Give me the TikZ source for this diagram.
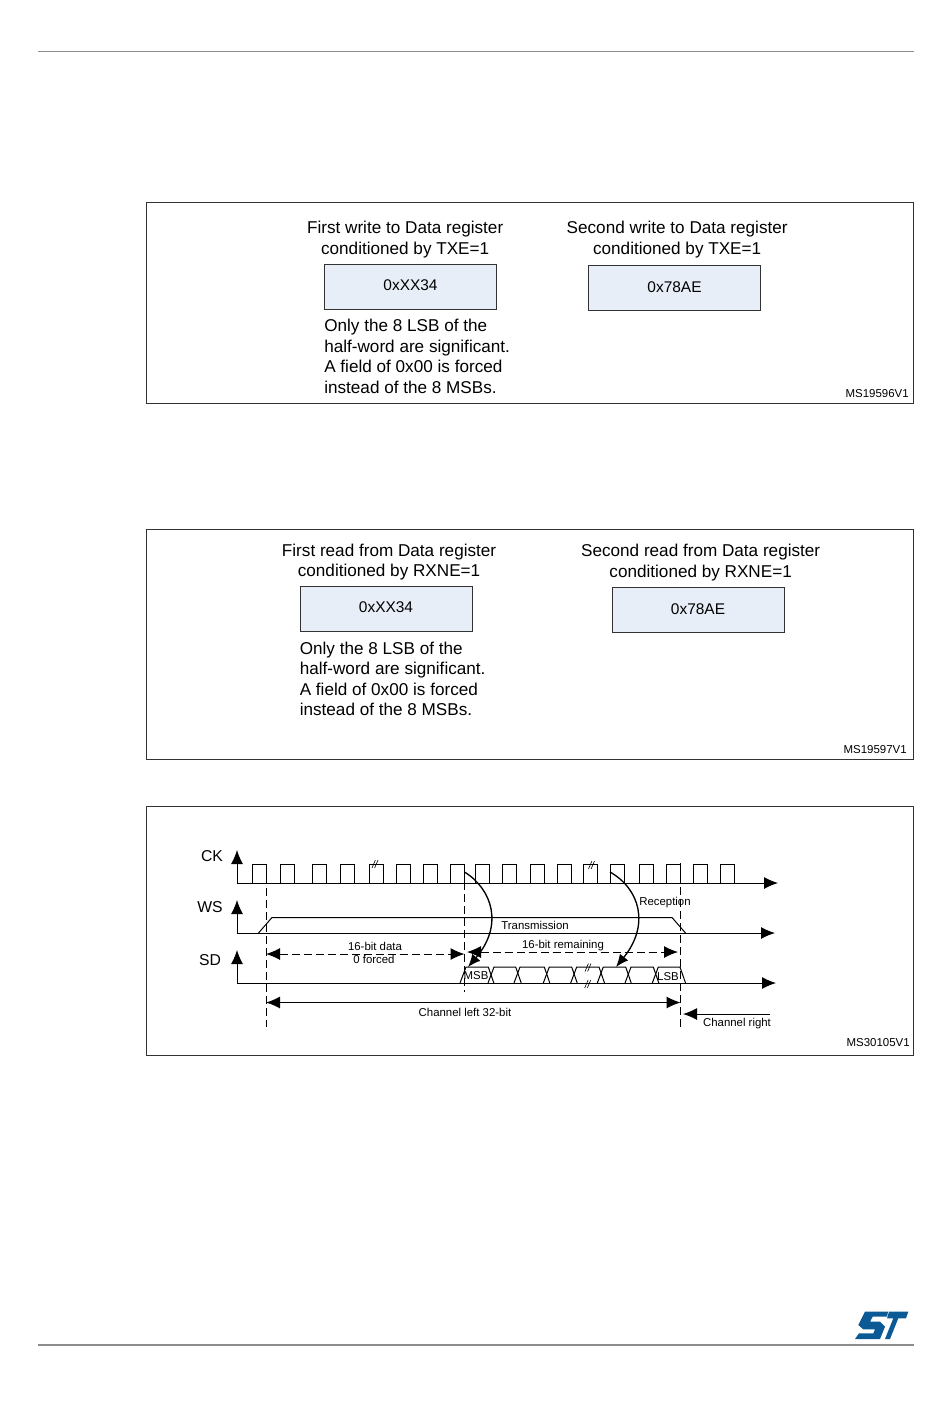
\documentclass[tikz,border=0pt]{standalone}
\usepackage{fontspec}
\setmainfont{Liberation Sans}
\usepackage{xcolor}
\usetikzlibrary{arrows.meta, positioning, calc}
\definecolor{regblue}{HTML}{E8EEF7}
\definecolor{stblue}{HTML}{0B5A96}
\definecolor{rulegray}{HTML}{8C8C8C}
\tikzset{
    frame/.style={draw=black!80, line width=0.6pt},
    regbox/.style={draw=black!80, fill=regblue, line width=0.5pt, minimum width=129.2pt, minimum height=33.5pt, inner sep=0pt, font=\fontsize{11.6pt}{13pt}\selectfont},
    title/.style={align=center, inner sep=0pt, font=\fontsize{12.85pt}{15.5pt}\selectfont},
    note/.style={align=left, inner sep=0pt, font=\fontsize{12.85pt}{15.4pt}\selectfont},
    figid/.style={inner sep=0pt, anchor=east, font=\fontsize{8.6pt}{9pt}\selectfont},
    siglabel/.style={inner sep=0pt, font=\fontsize{11.8pt}{13pt}\selectfont},
    small/.style={inner sep=0pt, font=\fontsize{8.55pt}{9pt}\selectfont},
    sig/.style={line width=0.75pt},
    axis/.style={sig, -{Latex[length=10.5pt,width=9pt]}},
    span/.style={sig, {Latex[length=10.5pt,width=9pt]}-{Latex[length=10.5pt,width=9pt]}},
    dashline/.style={dashed, dash pattern=on 6pt off 3pt},
    curved/.style={line width=1pt, -{Latex[length=9.5pt,width=8pt]}},
    tick/.style={line width=0.45pt}
}
\begin{document}
\begin{tikzpicture}[x=0.75pt, y=-0.75pt]
    \useasboundingbox (0,0) rectangle (950,1420);

    % page rules
    \coordinate (ruletopl) at (38,51.5);
    \coordinate (ruletopr) at (914,51.5);
    \coordinate (rulebotl) at (38,1345);
    \coordinate (rulebotr) at (914,1345);
    \draw [rulegray, line width=0.6pt] (ruletopl) -- (ruletopr);
    \draw [rulegray, line width=0.9pt] (rulebotl) -- (rulebotr);

    % frames
    \draw [frame] (146,202.5) rectangle (913,403);
    \draw [frame] (146,529) rectangle (913,759.5);
    \draw [frame] (146,806) rectangle (913,1055);

    % write
    \node [regbox, text depth=1.5pt] (writea) at (410.5,286.5) {0xXX34};
    \node [regbox] (writeb) at (674.5,287.5) {0x78AE};
    \node [title, above=4.3pt of writea, xshift=-4pt] (writeatitle) {First write to Data register\\conditioned by TXE=1};
    \node [title, above=4.8pt of writeb, xshift=2pt] (writebtitle) {Second write to Data register\\conditioned by TXE=1};
    \node [note, below right=7.3pt and 0pt of writea.south west] (writenote) {Only the 8 LSB of the\\half-word are significant.\\A field of 0x00 is forced\\instead of the 8 MSBs.};
    \node [figid] (writeid) at (909,393.5) {MS19596V1};

    % read
    \node [regbox, text depth=1.5pt] (reada) at (386,608.5) {0xXX34};
    \node [regbox] (readb) at (698,609.5) {0x78AE};
    \node [title, above=3.8pt of reada, xshift=2.3pt] (readatitle) {First read from Data register\\conditioned by RXNE=1};
    \node [title, above=4.5pt of readb, xshift=2pt] (readbtitle) {Second read from Data register\\conditioned by RXNE=1};
    \node [note, below right=7.7pt and 0pt of reada.south west] (readnote) {Only the 8 LSB of the\\half-word are significant.\\A field of 0x00 is forced\\instead of the 8 MSBs.};
    \node [figid] (readid) at (907,750) {MS19597V1};

    % signal labels
    \node [siglabel] (cklabel) at (212,856.5) {CK};
    \node [siglabel] (wslabel) at (210,907.5) {WS};
    \node [siglabel] (sdlabel) at (210,960.5) {SD};

    % axes
    \coordinate (cko) at (237,883);
    \coordinate (ckup) at (237,850);
    \coordinate (ckend) at (778,883);
    \coordinate (wso) at (237,933);
    \coordinate (wsup) at (237,900);
    \coordinate (wsend) at (775,933);
    \coordinate (sdo) at (237,983);
    \coordinate (sdup) at (237,950);
    \coordinate (sdend) at (776,983);
    \draw [axis] (cko) -- (ckup);
    \draw [axis] (cko) -- (ckend);
    \draw [axis] (wso) -- (wsup);
    \draw [axis] (wso) -- (wsend);
    \draw [axis] (sdo) -- (sdup);
    \draw [axis] (sdo) -- (sdend);

    % clock pulses
    \foreach \a in {252,280,312,340,369,396,423,450,475,502,530,557,583,610,639,666,693,720}
        \draw [sig] (\a,883) -- (\a,864) -- (\a+14,864) -- (\a+14,883);

    % word select
    \coordinate (wsrise) at (258.5,933);
    \coordinate (wshigha) at (272,917.5);
    \coordinate (wsthicka) at (363,917.5);
    \coordinate (wsthickb) at (653,917.5);
    \coordinate (wshighb) at (672,917.5);
    \coordinate (wsfall) at (685.5,933);
    \draw [sig] (wsrise) -- (wshigha) -- (wshighb) -- (wsfall);
    \draw [line width=1.1pt] (wshigha) -- (wsthicka);
    \draw [line width=1.1pt] (wsthickb) -- (wshighb);

    % data eyes
    \foreach \a/\b in {466/488.3,494/515.7,520/544.3,549.3/571.7,576.7/599,603.3/625.7,631/653.3,658.3/680}
        \draw [sig] (\a-6,983) -- (\a,967) -- (\b,967) -- (\b+5.5,983);

    % break marks
    \foreach \x/\y in {375/864,591.5/865,588/967.5,587.7/984}
        \foreach \d in {-1.3,1.3}
            \draw [tick] (\x+\d-1.7,\y+4) -- (\x+\d+1.7,\y-4);

    % markers
    \coordinate (mka) at (266,864);
    \coordinate (mkab) at (266,1027);
    \coordinate (mkb) at (464.5,870);
    \coordinate (mkbb) at (464.5,992);
    \coordinate (mkc) at (680.5,863);
    \coordinate (mkcb) at (680.5,1030);
    \draw [sig, dashline] (mka) -- (mkab);
    \draw [sig, dashline] (mkb) -- (mkbb);
    \draw [sig, dashline] (mkc) -- (mkcb);

    % spans
    \coordinate (dataa) at (266,954);
    \coordinate (datab) at (464.5,954);
    \coordinate (remaina) at (467,952);
    \coordinate (remainb) at (678,952);
    \coordinate (lefta) at (266,1002.5);
    \coordinate (leftb) at (680.5,1002.5);
    \coordinate (righta) at (770,1014);
    \coordinate (rightb) at (683,1014);
    \draw [span, dashline] (dataa) -- (datab);
    \draw [span, dashline] (remaina) -- (remainb);
    \draw [span] (lefta) -- (leftb);
    \draw [axis] (righta) -- (rightb);

    % reception and transmission curves
    \coordinate (curvea) at (464.5,872);
    \coordinate (curveb) at (468,967);
    \coordinate (curvec) at (610,872);
    \coordinate (curved) at (616,967);
    \draw [curved] (curvea) .. controls (492,889) and (504,925) .. (curveb);
    \draw [curved] (curvec) .. controls (640,889) and (650,925) .. (curved);

    % small labels
    \node [small] (datatext) at (375,946.5) {16-bit data};
    \node [small] (forcedtext) at (374,959.5) {0 forced};
    \node [small] (remaintext) at (563,945.5) {16-bit remaining};
    \node [small] (txtext) at (535,925.5) {Transmission};
    \node [small] (rxtext) at (665,902.5) {Reception};
    \node [small] (msbtext) at (476,975.5) {MSB};
    \node [small] (lsbtext) at (668,976.5) {LSB};
    \node [small] (lefttext) at (465,1012.5) {Channel left 32-bit};
    \node [small] (righttext) at (737,1024) {Channel right};
    \node [figid] (timingid) at (910,1043) {MS30105V1};

    % logo
    \fill [stblue] (865,1311.7) -- (888.3,1311.7) -- (886.7,1316.7) -- (872.7,1316.7) -- (870,1321.7) -- (880,1321.7) -- (885,1326.7) -- (880,1339) -- (855,1339) -- (859,1333.3) -- (873.3,1333.3) -- (875,1329.3) -- (863.3,1329.3) -- (858.3,1325) -- cycle;
    \fill [stblue] (889,1311.7) -- (908.3,1311.7) -- (906,1318.3) -- (898.3,1318.3) -- (890,1339) -- (885,1339) -- (893.3,1318.3) -- (887,1318.3) -- cycle;
\end{tikzpicture}
\end{document}
